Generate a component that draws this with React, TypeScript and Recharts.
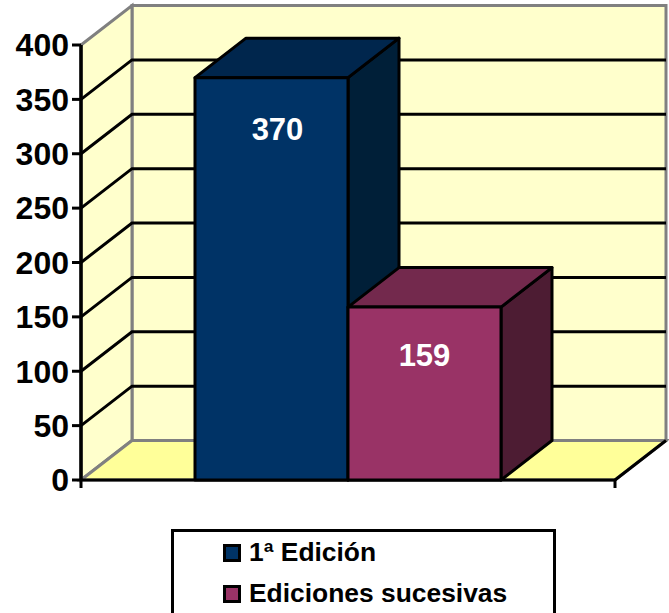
import {
  Bar,
  BarChart,
  CartesianGrid,
  LabelList,
  Legend,
  XAxis,
  YAxis,
} from "recharts";

const categories = ["Ediciones"];
const firstEdition = [370];
const laterEditions = [159];
const yTicks = [0, 50, 100, 150, 200, 250, 300, 350, 400];

const chartData = categories.map((name, i) => ({
  name,
  first: firstEdition[i],
  later: laterEditions[i],
}));

// how far the back wall sits from the front plane
const DX = 51;
const DY = -39.5;
const GREY = "#808080";
const FONT = "'Liberation Sans', Arial, sans-serif";
const LINE = 3;

const shades: Record<string, { top: string; side: string }> = {
  "#003366": { top: "#00264d", side: "#001f38" },
  "#993366": { top: "#73294d", side: "#4d1c33" },
};

const pts = (list: number[][]) => list.map((p) => p.join(",")).join(" ");

// walls and floor, sized from the plot area
function Room({ x, y, width, height }: any) {
  const right = x + width;
  const bottom = y + height;
  return (
    <g>
      <polygon
        points={pts([
          [x + DX, y + DY],
          [right + DX, y + DY],
          [right + DX, bottom + DY],
          [x + DX, bottom + DY],
        ])}
        fill="#ffffcc"
        stroke={GREY}
        strokeWidth={LINE}
      />
      <polygon
        points={pts([
          [x, y],
          [x + DX, y + DY],
          [x + DX, bottom + DY],
          [x, bottom],
        ])}
        fill="#ffffcc"
        stroke={GREY}
        strokeWidth={LINE}
      />
      <polygon
        points={pts([
          [x, bottom],
          [x + DX, bottom + DY],
          [right + DX, bottom + DY],
          [right, bottom],
        ])}
        fill="#ffff99"
        stroke={GREY}
        strokeWidth={LINE}
      />
      <line x1={right} y1={bottom} x2={right + DX} y2={bottom + DY} stroke="#000" strokeWidth={LINE} />
      <line x1={x} y1={y} x2={x} y2={bottom + 8} stroke="#000" strokeWidth={LINE} />
      <line x1={right} y1={bottom} x2={right} y2={bottom + 8} stroke="#000" strokeWidth={LINE} />
      <line x1={x} y1={bottom} x2={right} y2={bottom} stroke="#000" strokeWidth={LINE} />
    </g>
  );
}

// the first grid line call also lays down the room, so the lines sit on top of it
function GridLine({ x1, x2, y1, index, x, y, width, height }: any) {
  const isEdge = Math.abs(y1 - y) < 1 || Math.abs(y1 - (y + height)) < 1;
  return (
    <g>
      {index === 0 && <Room x={x} y={y} width={width} height={height} />}
      {!isEdge && (
        <polyline
          points={pts([
            [x1, y1],
            [x1 + DX, y1 + DY],
            [x2 + DX, y1 + DY],
          ])}
          fill="none"
          stroke="#000"
          strokeWidth={LINE}
        />
      )}
    </g>
  );
}

function Box3D({ x, y, width, height, fill }: any) {
  const shade = shades[fill];
  const right = x + width;
  const bottom = y + height;
  return (
    <g stroke="#000" strokeWidth={LINE} strokeLinejoin="round">
      <polygon
        points={pts([
          [right, y],
          [right + DX, y + DY],
          [right + DX, bottom + DY],
          [right, bottom],
        ])}
        fill={shade.side}
      />
      <polygon
        points={pts([
          [x, y],
          [x + DX, y + DY],
          [right + DX, y + DY],
          [right, y],
        ])}
        fill={shade.top}
      />
      <rect x={x} y={y} width={width} height={height} fill={fill} />
    </g>
  );
}

function LegendBox({ payload }: any) {
  return (
    <div
      style={{
        boxSizing: "border-box",
        width: 385,
        height: 100,
        border: "3px solid #000",
        background: "#fff",
        paddingLeft: 49,
        fontFamily: FONT,
        fontWeight: "bold",
        fontSize: 26.4,
        color: "#000",
        textAlign: "left",
      }}
    >
      {(payload || []).map((item: any) => (
        <div
          key={item.value}
          style={{ display: "flex", alignItems: "center", height: 41 }}
        >
          <span
            style={{
              boxSizing: "border-box",
              display: "inline-block",
              width: 18,
              height: 18,
              marginRight: 8,
              background: item.color,
              border: "3px solid #000",
            }}
          />
          {item.value}
        </div>
      ))}
    </div>
  );
}

const labelStyle = {
  fill: "#fff",
  fontFamily: FONT,
  fontWeight: "bold",
  fontSize: 31,
};

export default function App() {
  return (
    <div
      style={{
        position: "absolute",
        left: 0,
        top: 0,
        width: 669,
        height: 613,
        overflow: "hidden",
        background: "#fff",
      }}
    >
      <BarChart
        width={669}
        height={613}
        data={chartData}
        margin={{ top: 45, right: 54, bottom: 33, left: 0 }}
        barCategoryGap={114}
        barGap={0}
      >
        <CartesianGrid vertical={false} horizontal={<GridLine />} />
        <XAxis
          dataKey="name"
          tick={false}
          tickLine={false}
          height={0}
          axisLine={{ stroke: "#000", strokeWidth: LINE }}
        />
        <YAxis
          width={81}
          domain={[0, 400]}
          ticks={yTicks}
          interval={0}
          tickSize={9}
          tickMargin={3}
          axisLine={{ stroke: "#000", strokeWidth: LINE }}
          tickLine={{ stroke: "#000", strokeWidth: LINE }}
          tick={{ fill: "#000", fontFamily: FONT, fontWeight: "bold", fontSize: 32 }}
        />
        <Bar
          dataKey="first"
          name="1ª Edición"
          fill="#003366"
          shape={<Box3D />}
          isAnimationActive={false}
        >
          <LabelList
            dataKey="first"
            position="insideTop"
            offset={40}
            dx={6}
            style={labelStyle}
          />
        </Bar>
        <Bar
          dataKey="later"
          name="Ediciones sucesivas"
          fill="#993366"
          shape={<Box3D />}
          isAnimationActive={false}
        >
          <LabelList
            dataKey="later"
            position="insideTop"
            offset={37}
            style={labelStyle}
          />
        </Bar>
        <Legend
          content={<LegendBox />}
          verticalAlign="bottom"
          wrapperStyle={{ left: 171, top: 529, bottom: "auto", width: 385, height: 100 }}
        />
      </BarChart>
    </div>
  );
}
